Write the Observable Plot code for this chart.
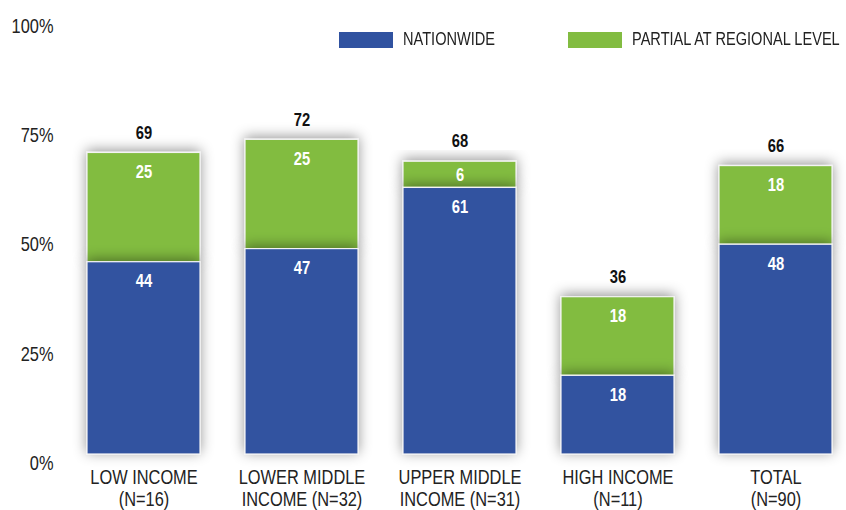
<!DOCTYPE html>
<html>
<head>
<meta charset="utf-8">
<script src="https://cdn.jsdelivr.net/npm/d3@7"></script>
<script src="https://cdn.jsdelivr.net/npm/@observablehq/plot@0.6"></script>
<style>
  html, body { margin: 0; padding: 0; background: #fff; }
  #chart { position: relative; width: 846px; height: 510px; font-family: "Liberation Sans", Arial, sans-serif; }
  .legend { position: absolute; top: 0; left: 0; width: 846px; height: 0; }
  .item { position: absolute; top: 29px; display: flex; align-items: center; font-size: 18px; color: #222; white-space: nowrap; }
  .sw { width: 54px; height: 16px; margin-right: 10px; flex: none; }
  .item span { display: inline-block; transform: scaleX(0.81); transform-origin: 0 50%; }
</style>
</head>
<body>
<div id="chart"></div>
<script>
const categories = ["LOW INCOME", "LOWER MIDDLE INCOME", "UPPER MIDDLE INCOME", "HIGH INCOME", "TOTAL"];
const categoryLabels = ["LOW INCOME\n(N=16)", "LOWER MIDDLE\nINCOME (N=32)", "UPPER MIDDLE\nINCOME (N=31)", "HIGH INCOME\n(N=11)", "TOTAL\n(N=90)"];
const nationwide = [44, 47, 61, 18, 48];
const partial = [25, 25, 6, 18, 18];
const totals = [69, 72, 68, 36, 66];
const yTicks = [0, 25, 50, 75, 100];
const seriesNames = ["NATIONWIDE", "PARTIAL AT REGIONAL LEVEL"];
const seriesColors = ["#3052a0", "#82bc41"];

const FONT = '"Liberation Sans", Arial, sans-serif';
const NARROW = 0.82;

const rows = categories.map((c, i) => ({
  cat: c, label: categoryLabels[i], nat: nationwide[i], par: partial[i], total: totals[i]
}));

const plot = Plot.plot({
  width: 846,
  height: 510,
  marginLeft: 85,
  marginRight: 13,
  marginTop: 17,
  marginBottom: 56,
  x: { domain: categories, paddingInner: 0.285, paddingOuter: 0, label: null },
  y: { domain: [0, 100], label: null },
  style: { fontFamily: FONT, fontSize: "20px", color: "#222", background: "transparent", overflow: "visible" },
  marks: [
    Plot.barY(rows, { x: "cat", y1: "nat", y2: d => d.nat + d.par, fill: seriesColors[1], stroke: "#f4f4f4", strokeWidth: 1.2 }),
    Plot.barY(rows, { x: "cat", y1: 0, y2: "nat", fill: seriesColors[0], stroke: "#f4f4f4", strokeWidth: 1.2 }),
    Plot.text(rows, { x: "cat", y: d => Math.max(d.nat + d.par - 4.4, d.nat + d.par / 2), text: d => String(d.par), fill: "white", fontWeight: "bold", fontSize: 18 }),
    Plot.text(rows, { x: "cat", y: d => Math.max(d.nat - 4.4, d.nat / 2), text: d => String(d.nat), fill: "white", fontWeight: "bold", fontSize: 18 }),
    Plot.text(rows, { x: "cat", y: d => d.nat + d.par, dy: -20, text: d => String(d.total), fill: "#111", fontWeight: "bold", fontSize: 18 }),
    Plot.axisY({ ticks: yTicks, tickSize: 0, tickPadding: 32, dy: 9, tickFormat: d => d + "%", fontSize: 20, fill: "#222" }),
    Plot.axisX({ tickSize: 0, tickPadding: 14, lineHeight: 1.1, fontSize: 20, fill: "#222", tickFormat: d => categoryLabels[categories.indexOf(d)] })
  ]
});

// condense all texts horizontally around their anchor
plot.querySelectorAll("text").forEach(t => {
  const tr = t.getAttribute("transform");
  if (tr) {
    t.setAttribute("transform", tr + ` scale(${NARROW},1)`);
  } else {
    const x = +(t.getAttribute("x") || 0);
    t.setAttribute("transform", `translate(${x},0) scale(${NARROW},1) translate(${-x},0)`);
  }
});

// drop shadow filter
const ns = "http://www.w3.org/2000/svg";
const defs = document.createElementNS(ns, "defs");
defs.innerHTML = '<filter id="sh" x="-40%" y="-40%" width="180%" height="180%"><feDropShadow dx="0" dy="-2" stdDeviation="6.5" flood-color="#000" flood-opacity="0.42"/></filter>';
plot.insertBefore(defs, plot.firstChild);
plot.querySelectorAll('g[aria-label="bar"] rect').forEach(r => r.setAttribute("filter", "url(#sh)"));

const chart = document.getElementById("chart");
plot.style.position = "absolute";
plot.style.left = "0";
plot.style.top = "0";
chart.appendChild(plot);

const legend = document.createElement("div");
legend.className = "legend";
const lefts = [339, 568];
seriesNames.forEach((name, i) => {
  const it = document.createElement("div");
  it.className = "item";
  it.style.left = lefts[i] + "px";
  const sw = document.createElement("div");
  sw.className = "sw";
  sw.style.background = seriesColors[i];
  const t = document.createElement("span");
  t.textContent = name;
  it.appendChild(sw);
  it.appendChild(t);
  legend.appendChild(it);
});
chart.appendChild(legend);
</script>
</body>
</html>
